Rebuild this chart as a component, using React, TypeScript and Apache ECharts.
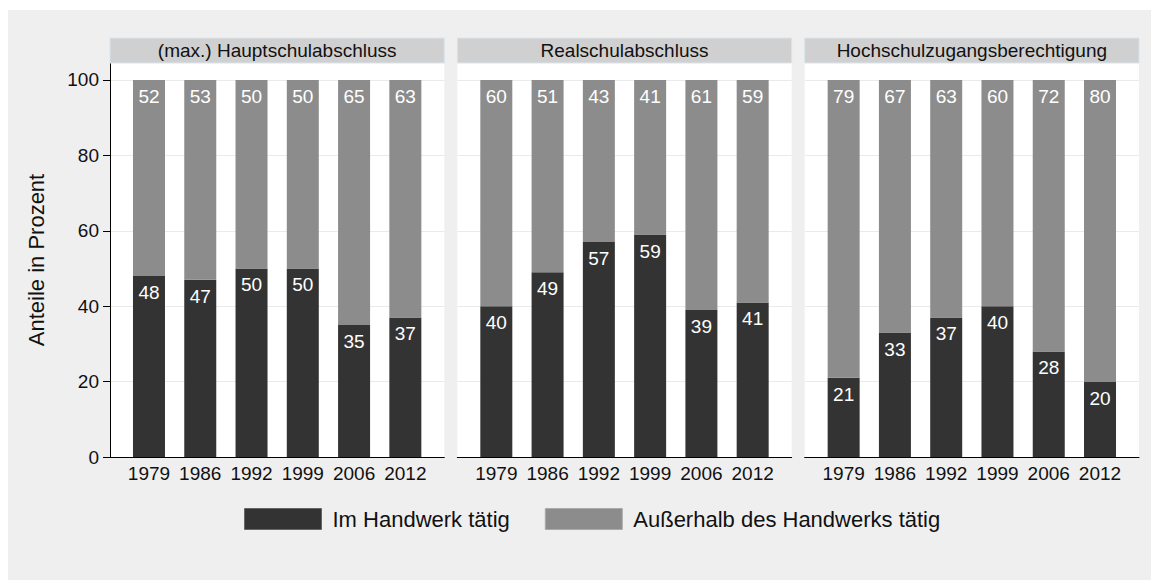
import React, { useEffect, useRef } from "react";
import * as echarts from "echarts";

const years = ["1979", "1986", "1992", "1999", "2006", "2012"];
const panelTitles = ["(max.) Hauptschulabschluss", "Realschulabschluss", "Hochschulzugangsberechtigung"];
const seriesNames = ["Im Handwerk tätig", "Außerhalb des Handwerks tätig"];
const inHandwerk = [
  [48, 47, 50, 50, 35, 37],
  [40, 49, 57, 59, 39, 41],
  [21, 33, 37, 40, 28, 20],
];
const ausserhalb = [
  [52, 53, 50, 50, 65, 63],
  [60, 51, 43, 41, 61, 59],
  [79, 67, 63, 60, 72, 80],
];
const yTicks = [0, 20, 40, 60, 80, 100];

const FONT = "'Liberation Sans', Arial, sans-serif";
const DARK = "#333333";
const GRAY = "#8c8c8c";

export default function App() {
  const ref = useRef<HTMLDivElement>(null);
  useEffect(() => {
    if (!ref.current) return;
    const chart = echarts.init(ref.current, undefined, { renderer: "svg" });
    const panelLeft = [102, 449.33, 796.67];
    const panelW = 334.33;
    const top = 53;
    const height = 394;
    const inner = 13.35;
    const ymax = 104.5;

    const grids: any[] = [];
    const xAxes: any[] = [];
    const yAxes: any[] = [];
    const series: any[] = [];
    const graphics: any[] = [];

    panelLeft.forEach((l, p) => {
      grids.push({ left: l, top, width: panelW, height, show: true, backgroundColor: "#ffffff", borderWidth: 0, containLabel: false });
      xAxes.push({
        type: "category", gridIndex: p, data: [""],
        axisLine: { show: true, lineStyle: { color: "#000", width: 1 } },
        axisTick: { show: false }, axisLabel: { show: false }, splitLine: { show: false },
      });
      yAxes.push({
        type: "value", gridIndex: p, min: 0, max: ymax, interval: 20,
        axisLine: { show: p === 0, lineStyle: { color: "#000", width: 1 } },
        axisTick: { show: p === 0, length: 7, lineStyle: { color: "#000" }, customValues: yTicks },
        axisLabel: {
          show: p === 0, fontSize: 19, color: "#111", fontFamily: FONT, margin: 11, customValues: yTicks,
          formatter: (v: number) => (v % 20 === 0 ? String(v) : ""),
        },
        splitLine: { show: true, lineStyle: { color: "#eaeaea", width: 1 } },
        name: p === 0 ? "Anteile in Prozent" : "",
        nameLocation: "middle", nameGap: 63,
        nameTextStyle: { fontSize: 22, color: "#111", fontFamily: FONT },
      });
      graphics.push({
        type: "rect", shape: { x: l, y: 28, width: panelW, height: 25 },
        style: { fill: "#d0d0d0", stroke: "#d8e4ec", lineWidth: 1 }, z: 10,
      });
      graphics.push({
        type: "text", x: l + panelW / 2, y: 40.5, z: 11,
        style: { text: panelTitles[p], fill: "#111", fontSize: 19, fontFamily: FONT, textAlign: "center", textVerticalAlign: "middle" },
      });
    });

    panelLeft.forEach((l, p) => {
      grids.push({ left: l + inner, top, width: panelW - 2 * inner, height });
      xAxes.push({
        type: "category", gridIndex: 3 + p, data: years,
        axisLine: { show: false }, axisTick: { show: false },
        axisLabel: { interval: 0, fontSize: 19, color: "#111", fontFamily: FONT, margin: 7 },
      });
      yAxes.push({
        type: "value", gridIndex: 3 + p, min: 0, max: ymax,
        axisLine: { show: false }, axisTick: { show: false }, axisLabel: { show: false }, splitLine: { show: false },
      });
      const label = { show: true, position: "insideTop", distance: 7, color: "#fff", fontSize: 19, fontFamily: FONT };
      series.push({
        type: "bar", name: seriesNames[0], stack: "s" + p, xAxisIndex: 3 + p, yAxisIndex: 3 + p,
        data: inHandwerk[p], barWidth: 32, itemStyle: { color: DARK }, label,
      });
      series.push({
        type: "bar", name: seriesNames[1], stack: "s" + p, xAxisIndex: 3 + p, yAxisIndex: 3 + p,
        data: ausserhalb[p], barWidth: 32, itemStyle: { color: GRAY }, label,
      });
    });

    chart.setOption({
      animation: false,
      backgroundColor: "#efefef",
      textStyle: { fontFamily: FONT },
      grid: grids,
      xAxis: xAxes,
      yAxis: yAxes,
      series,
      legend: {
        left: 236, top: 498, padding: 0,
        itemWidth: 77, itemHeight: 21, itemGap: 35, icon: "rect",
        textStyle: { fontSize: 22, color: "#111", fontFamily: FONT, padding: [0, 0, 0, 6] },
        data: [
          { name: seriesNames[0], itemStyle: { color: DARK, borderColor: "#666", borderWidth: 1 } },
          { name: seriesNames[1], itemStyle: { color: GRAY, borderColor: "#aaa", borderWidth: 1 } },
        ],
        selectedMode: false,
      },
      graphic: graphics,
    });
    return () => chart.dispose();
  }, []);
  return (
    <div style={{ paddingTop: 2 }}>
      <div ref={ref} style={{ width: 1151, height: 570 }} />
    </div>
  );
}
